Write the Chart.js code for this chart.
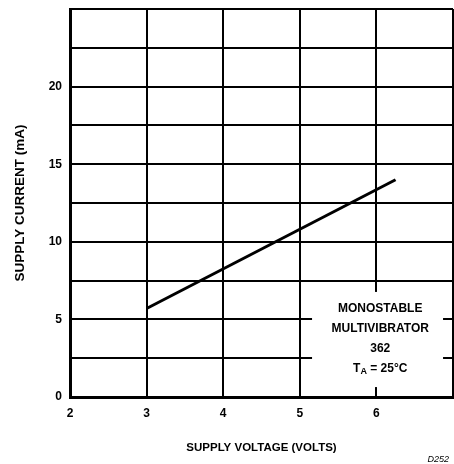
<!DOCTYPE html>
<html>
<head>
<meta charset="utf-8">
<script src="https://cdn.jsdelivr.net/npm/chart.js@4"></script>
<style>
  html, body { margin: 0; padding: 0; background: #fff; }
  #wrap { width: 454px; height: 464px; }
</style>
</head>
<body>
<div id="wrap"><canvas id="grafica"></canvas></div>
<script>
// supply voltage (V) vs supply current (mA)
var voltaje = [3, 6.25];
var corriente = [5.7, 14.0];
var ticksX = [2, 3, 4, 5, 6];
var ticksY = [0, 5, 10, 15, 20];
var nota = ['MONOSTABLE', 'MULTIVIBRATOR', '362'];

var negro = '#000';
var fuente = 'Liberation Sans, Arial, Helvetica, sans-serif';

// white box with the test conditions, bottom right of the grid
var cajaNota = {
	id: 'cajaNota',
	afterDraw: function(chart) {
		var ctx = chart.ctx;
		var sx = chart.scales.x, sy = chart.scales.y;
		var x0 = sx.getPixelForValue(5.16), x1 = sx.getPixelForValue(6.87);
		var y0 = sy.getPixelForValue(6.77), y1 = sy.getPixelForValue(0.64);
		ctx.save();
		ctx.fillStyle = '#fff';
		ctx.fillRect(x0, y0, x1 - x0, y1 - y0);

		var cx = sx.getPixelForValue(6.05);
		var yl = sy.getPixelForValue(5.67);
		ctx.fillStyle = negro;
		ctx.font = 'bold 12px ' + fuente;
		ctx.textAlign = 'center';
		ctx.textBaseline = 'middle';
		for (var i = 0; i < nota.length; i++) {
			ctx.fillText(nota[i], cx, yl + i * 20);
		}
		// T_A = 25°C
		var y4 = yl + 60;
		var big = 'bold 12px ' + fuente, small = 'bold 9px ' + fuente;
		ctx.font = big; var wT = ctx.measureText('T').width;
		ctx.font = small; var wA = ctx.measureText('A').width;
		ctx.font = big; var wR = ctx.measureText(' = 25°C').width;
		var xs = cx - (wT + wA + wR) / 2;
		ctx.textAlign = 'left';
		ctx.font = big; ctx.fillText('T', xs, y4);
		ctx.font = small; ctx.fillText('A', xs + wT, y4 + 3);
		ctx.font = big; ctx.fillText(' = 25°C', xs + wT + wA, y4);

		// figure code
		ctx.font = 'italic 9px ' + fuente;
		ctx.textAlign = 'right';
		ctx.textBaseline = 'alphabetic';
		ctx.fillText('D252', 449, 462);
		ctx.restore();
	}
};

var ctx = document.getElementById('grafica').getContext('2d');
var chart = new Chart(ctx, {
	type: 'scatter',
	data: {
		datasets: [{
			data: voltaje.map(function(v, i) { return {x: v, y: corriente[i]}; }),
			showLine: true,
			borderColor: negro,
			borderWidth: 3,
			pointRadius: 0,
			fill: false
		}]
	},
	options: {
		responsive: true,
		maintainAspectRatio: false,
		animation: false,
		layout: { padding: { left: 0, top: 9, right: 1, bottom: 0 } },
		plugins: { legend: { display: false }, tooltip: { enabled: false } },
		scales: {
			x: {
				type: 'linear',
				min: 2, max: 7,
				afterFit: function(scale) {
					scale.height = 67;
					scale.paddingLeft = 0;
					scale.paddingRight = 0;
				},
				ticks: {
					stepSize: 1,
					padding: 9,
					color: negro,
					font: { family: fuente, size: 12, weight: 'bold' },
					callback: function(v) { return ticksX.indexOf(v) >= 0 ? String(v) : ''; }
				},
				grid: { color: negro, lineWidth: 2, drawTicks: false },
				border: { color: negro, width: 3 },
				title: {
					display: true,
					text: 'SUPPLY VOLTAGE (VOLTS)',
					color: negro,
					font: { family: fuente, size: 11.5, weight: 'bold' },
					padding: { top: 0, bottom: 9 }
				}
			},
			y: {
				type: 'linear',
				min: 0, max: 25,
				afterFit: function(scale) {
					scale.width = 70;
					scale.paddingTop = 0;
					scale.paddingBottom = 0;
				},
				ticks: {
					stepSize: 2.5,
					padding: 8,
					color: negro,
					font: { family: fuente, size: 12, weight: 'bold' },
					callback: function(v) { return ticksY.indexOf(v) >= 0 ? String(v) : ''; }
				},
				grid: { color: negro, lineWidth: 2, drawTicks: false },
				border: { color: negro, width: 3 },
				title: {
					display: true,
					text: 'SUPPLY CURRENT (mA)',
					color: negro,
					font: { family: fuente, size: 13.5, weight: 'bold' },
					padding: { top: 12, bottom: 0 }
				}
			}
		}
	},
	plugins: [cajaNota]
});
</script>
</body>
</html>
